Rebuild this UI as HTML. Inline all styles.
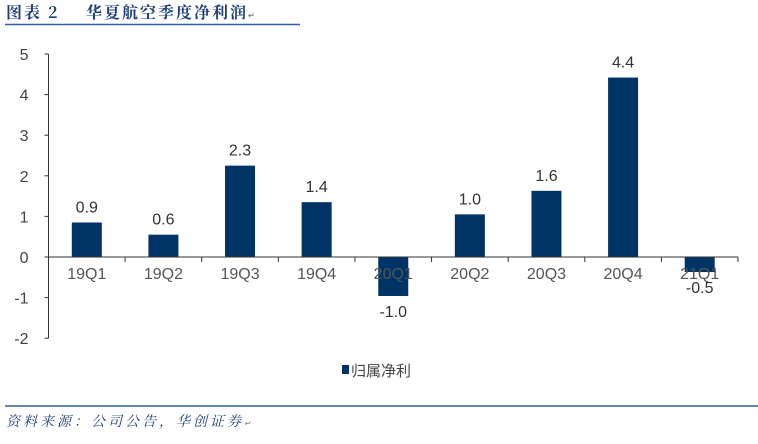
<!DOCTYPE html>
<html><head><meta charset="utf-8"><style>
body{margin:0;background:#fff;width:758px;height:439px;overflow:hidden;font-family:"Liberation Sans","Noto Sans CJK SC",sans-serif}
</style></head><body>
<svg width="758" height="439" xmlns="http://www.w3.org/2000/svg" id="chart">
<text x="6" y="18" font-family="'Noto Serif CJK SC',serif" font-weight="bold" font-size="16" letter-spacing="2" fill="#1f3f7a">图表 2<tspan x="86">华夏航空季度净利润</tspan><tspan font-size="8" fill="#888">↵</tspan></text>
<line x1="5" y1="24.5" x2="300" y2="24.5" stroke="#2e5fa0" stroke-width="1.5"/>
<g id="plot"></g>
<rect x="342" y="365" width="7" height="9" fill="#003366"/>
<text x="351" y="376" font-size="15" fill="#444">归属净利</text>
<line x1="5" y1="406" x2="758" y2="406" stroke="#2e5fa0" stroke-width="1.5"/>
<text x="6" y="426" font-size="14" letter-spacing="3" font-style="italic" fill="#1f3f7a" font-family="'Noto Serif CJK SC',serif">资料来源：公司公告，华创证券<tspan font-size="8" fill="#888">↵</tspan></text>
</svg>
<script>
const categories=["19Q1","19Q2","19Q3","19Q4","20Q1","20Q2","20Q3","20Q4","21Q1"];
const values=[0.85,0.55,2.25,1.35,-0.96,1.05,1.63,4.42,-0.37];
const valueLabels=["0.9","0.6","2.3","1.4","-1.0","1.0","1.6","4.4","-0.5"];
const yTicks=[5,4,3,2,1,0,-1,-2];
const NS="http://www.w3.org/2000/svg";
const g=document.getElementById("plot");
const x0=48.5,x1=738,y0=257,unit=40.6;
const bw=(x1-x0)/categories.length;
const y=v=>y0-v*unit;
function mk(t,a){const e=document.createElementNS(NS,t);for(const k in a)e.setAttribute(k,a[k]);g.appendChild(e);return e;}
let ax=mk("line",{x1:x0,y1:y(5),x2:x0,y2:y(-2),stroke:"#333"});


yTicks.forEach(t=>{
 const l=mk("line",{x1:x0-4,y1:y(t),x2:x0,y2:y(t),stroke:"#333"});
 
 
 const tx=mk("text",{x:x0-20,y:y(t)+6,"font-size":16,fill:"#444","text-anchor":"end"});
 tx.textContent=t;
 
 
});
categories.forEach((c,i)=>{
 const cx=x0+bw*(i+0.5),v=values[i];
 const r=mk("rect",{x:cx-15,y:Math.min(y(v),y0),width:30,height:Math.abs(y(v)-y0),fill:"#003366"});
 
 
 const vl=mk("text",{x:cx,y:v>=0?y(v)-10:y(v)+21,"font-size":16,fill:"#333","text-anchor":"middle"});
 vl.textContent=valueLabels[i];
 
 
 const cl=mk("text",{x:cx,y:y0+22,"font-size":16,fill:"#555","text-anchor":"middle"});
 cl.textContent=c;
 
 
 const tk=mk("line",{x1:x0+bw*(i+1),y1:y0,x2:x0+bw*(i+1),y2:y0+5,stroke:"#333"});
 
 
});
const xa=mk("line",{x1:x0,y1:y0,x2:x1,y2:y0,stroke:"#333"});


</script>
</body></html>
